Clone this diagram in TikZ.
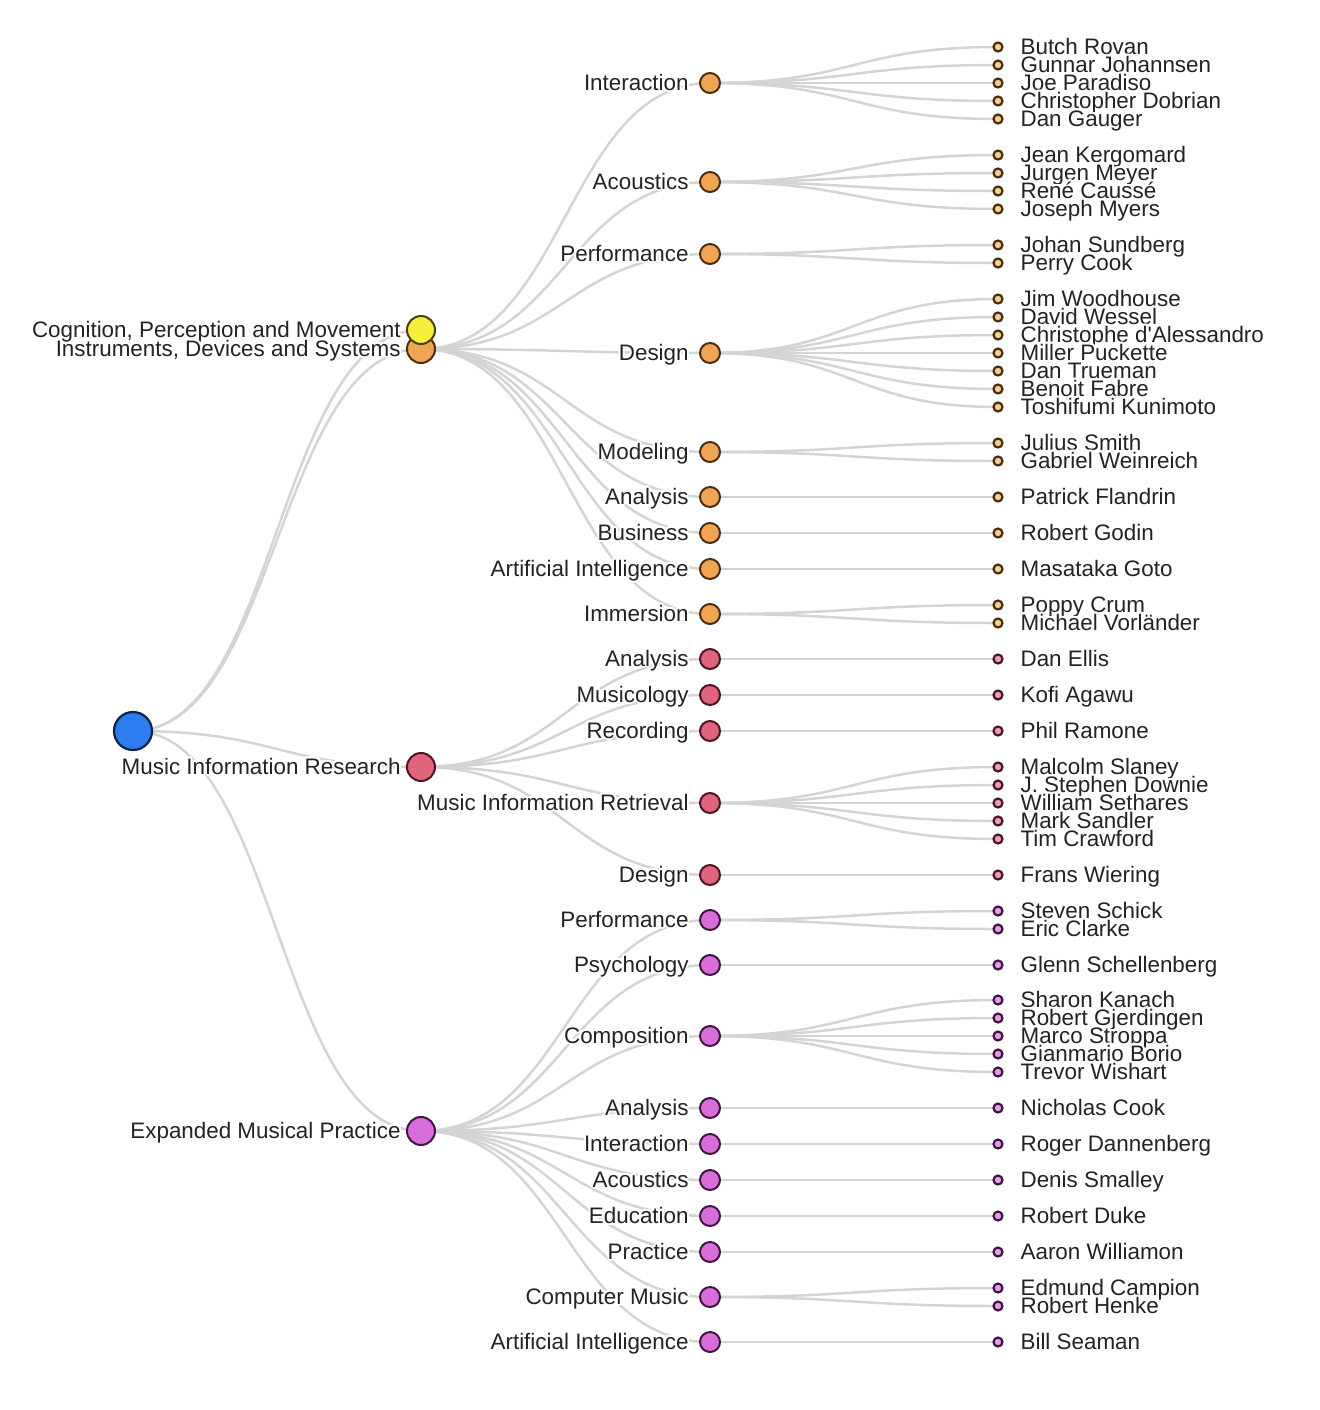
\documentclass[tikz,border=0pt]{standalone}
\usepackage{fontspec}
\setmainfont{Liberation Sans}
\usepackage[copies]{contour}
\contourlength{0.9pt}
\usetikzlibrary{positioning}
\definecolor{linkgray}{RGB}{212,212,212}
\definecolor{txtgray}{RGB}{35,35,35}
\definecolor{rootfill}{RGB}{45,125,240}
\definecolor{rootline}{RGB}{15,35,70}
\definecolor{cogfill}{RGB}{250,238,60}
\definecolor{cogline}{RGB}{70,65,20}
\definecolor{idsfill}{RGB}{240,165,85}
\definecolor{idsline}{RGB}{75,45,15}
\definecolor{mirfill}{RGB}{225,100,125}
\definecolor{mirline}{RGB}{75,20,35}
\definecolor{empfill}{RGB}{215,110,220}
\definecolor{empline}{RGB}{65,20,65}
\definecolor{idsleaf}{RGB}{245,205,150}
\definecolor{mirleaf}{RGB}{235,160,175}
\definecolor{empleaf}{RGB}{225,160,230}
\newcommand{\halo}[1]{\contour{white}{#1}}
\pgfdeclarelayer{bg}
\pgfsetlayers{bg,main}

\begin{document}
\begin{tikzpicture}[x=0.5pt, y=-0.5pt,
  dot/.style={circle, inner sep=0pt, line width=1pt},
  rootdot/.style={dot, minimum size=19pt, line width=1.1pt, fill=rootfill, draw=rootline},
  topdot/.style={dot, minimum size=14pt},
  middot/.style={dot, minimum size=10pt},
  leafdot/.style={dot, minimum size=4.5pt, line width=1.1pt},
  lbl/.style={font=\fontsize{11.2}{13}\selectfont, text=txtgray, inner sep=0pt,
    text height=0.86em, text depth=0.14em},
  toplbl/.style={lbl, label distance=2.5pt},
  midlbl/.style={lbl, label distance=5pt},
  leaflbl/.style={lbl, label distance=8.3pt},
  link/.style={draw=linkgray, line width=1.25pt,
    to path={.. controls +(144,0) and +(-144,0) .. (\tikztotarget)}}]
\useasboundingbox (0,0) rectangle (1320,1410);

% root and first level
\node[rootdot] (root) at (133,731) {};
\node[lbl, anchor=east] (cogtext) at (401,330) {\halo{Cognition, Perception and Movement}};
\node[topdot, fill=idsfill, draw=idsline,
  label={[toplbl]left:\halo{Instruments, Devices and Systems}}] (ids) at (421,349) {};
\node[topdot, fill=cogfill, draw=cogline] (cog) at (421,330) {};
\node[topdot, fill=mirfill, draw=mirline,
  label={[toplbl]left:\halo{Music Information Research}}] (mir) at (421,767) {};
\node[topdot, fill=empfill, draw=empline,
  label={[toplbl]left:\halo{Expanded Musical Practice}}] (emp) at (421,1131) {};
\begin{pgfonlayer}{bg}
\foreach \n in {cog,ids,mir,emp}
  \draw[link] (root.center) to (\n.center);
\end{pgfonlayer}

% second level
\foreach \y/\t/\n in {83/Interaction/i1, 182/Acoustics/i2, 254/Performance/i3,
    353/Design/i4, 452/Modeling/i5, 497/Analysis/i6, 533/Business/i7,
    569/Artificial Intelligence/i8, 614/Immersion/i9} {
  \node[middot, fill=idsfill, draw=idsline, label={[midlbl]left:\halo{\t}}] (\n) at (710,\y) {};
  \begin{pgfonlayer}{bg}\draw[link] (ids.center) to (\n.center);\end{pgfonlayer}
}
\foreach \y/\t/\n in {659/Analysis/m1, 695/Musicology/m2, 731/Recording/m3,
    803/Music Information Retrieval/m4, 875/Design/m5} {
  \node[middot, fill=mirfill, draw=mirline, label={[midlbl]left:\halo{\t}}] (\n) at (710,\y) {};
  \begin{pgfonlayer}{bg}\draw[link] (mir.center) to (\n.center);\end{pgfonlayer}
}
\foreach \y/\t/\n in {920/Performance/e1, 965/Psychology/e2, 1036/Composition/e3,
    1108/Analysis/e4, 1144/Interaction/e5, 1180/Acoustics/e6, 1216/Education/e7,
    1252/Practice/e8, 1297/Computer Music/e9, 1342/Artificial Intelligence/e10} {
  \node[middot, fill=empfill, draw=empline, label={[midlbl]left:\halo{\t}}] (\n) at (710,\y) {};
  \begin{pgfonlayer}{bg}\draw[link] (emp.center) to (\n.center);\end{pgfonlayer}
}

% people
\foreach \y/\t/\p [count=\k] in {47/Butch Rovan/i1, 65/Gunnar Johannsen/i1,
    83/Joe Paradiso/i1, 101/Christopher Dobrian/i1, 119/Dan Gauger/i1,
    155/Jean Kergomard/i2, 173/Jurgen Meyer/i2, 191/René Caussé/i2, 209/Joseph Myers/i2,
    245/Johan Sundberg/i3, 263/Perry Cook/i3,
    299/Jim Woodhouse/i4, 317/David Wessel/i4, 335/Christophe d\textquotesingle Alessandro/i4,
    353/Miller Puckette/i4, 371/Dan Trueman/i4, 389/Benoit Fabre/i4, 407/Toshifumi Kunimoto/i4,
    443/Julius Smith/i5, 461/Gabriel Weinreich/i5, 497/Patrick Flandrin/i6,
    533/Robert Godin/i7, 569/Masataka Goto/i8, 605/Poppy Crum/i9, 623/Michael Vorländer/i9} {
  \node[leafdot, fill=idsleaf, draw=idsline, label={[leaflbl]right:\halo{\t}}] (pi\k) at (998,\y) {};
  \begin{pgfonlayer}{bg}\draw[link] (\p.center) to (pi\k.center);\end{pgfonlayer}
}
\foreach \y/\t/\p [count=\k] in {659/Dan Ellis/m1, 695/Kofi Agawu/m2, 731/Phil Ramone/m3,
    767/Malcolm Slaney/m4, 785/J. Stephen Downie/m4, 803/William Sethares/m4,
    821/Mark Sandler/m4, 839/Tim Crawford/m4, 875/Frans Wiering/m5} {
  \node[leafdot, fill=mirleaf, draw=mirline, label={[leaflbl]right:\halo{\t}}] (pm\k) at (998,\y) {};
  \begin{pgfonlayer}{bg}\draw[link] (\p.center) to (pm\k.center);\end{pgfonlayer}
}
\foreach \y/\t/\p [count=\k] in {911/Steven Schick/e1, 929/Eric Clarke/e1,
    965/Glenn Schellenberg/e2, 1000/Sharon Kanach/e3, 1018/Robert Gjerdingen/e3,
    1036/Marco Stroppa/e3, 1054/Gianmario Borio/e3, 1072/Trevor Wishart/e3,
    1108/Nicholas Cook/e4, 1144/Roger Dannenberg/e5, 1180/Denis Smalley/e6,
    1216/Robert Duke/e7, 1252/Aaron Williamon/e8, 1288/Edmund Campion/e9,
    1306/Robert Henke/e9, 1342/Bill Seaman/e10} {
  \node[leafdot, fill=empleaf, draw=empline, label={[leaflbl]right:\halo{\t}}] (pe\k) at (998,\y) {};
  \begin{pgfonlayer}{bg}\draw[link] (\p.center) to (pe\k.center);\end{pgfonlayer}
}
\end{tikzpicture}
\end{document}
